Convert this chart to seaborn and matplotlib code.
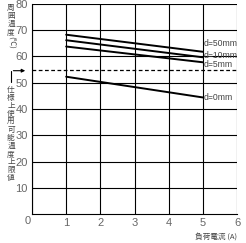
import matplotlib
matplotlib.use("Agg")
import matplotlib.pyplot as plt
import seaborn as sns
import pandas as pd

# Data
current = [1, 5]
series_names = ["d=50mm", "d=10mm", "d=5mm", "d=0mm"]
temp_d50 = [68.3, 61.8]
temp_d10 = [66.2, 59.7]
temp_d5 = [63.8, 57.8]
temp_d0 = [52.3, 44.4]
limit_temp = 55
x_ticks = [0, 1, 2, 3, 4, 5, 6]
x_tick_labels = ["", "1", "2", "3", "4", "5", "6"]
y_ticks = [10, 20, 30, 40, 50, 60, 70, 80]
label_y = [64.8, 60.3, 57.0, 44.3]

rows = []
for name, vals in zip(series_names, [temp_d50, temp_d10, temp_d5, temp_d0]):
    for x, v in zip(current, vals):
        rows.append({"current": x, "temp": v, "d": name})
df = pd.DataFrame(rows)

sns.set_theme(style="white")
plt.rcParams['font.family'] = ['Liberation Sans Narrow', 'Liberation Sans', 'DejaVu Sans']
jp = ['Noto Sans CJK JP', 'DejaVu Sans']

fig = plt.figure(figsize=(2.46, 2.43), dpi=100)
ax = fig.add_axes([32/246, 1 - 214/243, (237-32)/246, (214-4)/243])

sns.lineplot(data=df, x="current", y="temp", hue="d", palette=["black"]*4,
             linewidth=1.4, legend=False, ax=ax)
ax.axhline(limit_temp, color="black", linestyle=(0, (3, 2)), linewidth=0.9)

ax.set_xlim(0, 6)
ax.set_ylim(0, 80)
ax.set_xticks(x_ticks)
ax.set_xticklabels(x_tick_labels)
ax.set_yticks(y_ticks)
ax.grid(True, color="black", linewidth=0.8)
for s in ax.spines.values():
    s.set_color("black")
    s.set_linewidth(0.8)
ax.spines['top'].set_visible(False)
ax.spines['right'].set_visible(False)
ax.tick_params(axis='both', length=0, labelsize=8, colors="#666666", pad=3)
ax.set_xlabel("")
ax.set_ylabel("")

for name, y in zip(series_names, label_y):
    ax.text(5.02, y, name, fontsize=6.2, color="#444444", va="center", ha="left")

# corner 0
fig.text(28/246, 1 - 221/243, "0", fontsize=8, color="#666666", ha="center", va="center")

# y axis label (vertical)
fig.text(11/246, 1 - 4/243, "周\n囲\n温\n度", family=jp, fontsize=5.5, color="#444444",
         ha="center", va="top", linespacing=1.0)
fig.text(11/246, 1 - 42/243, "(℃)", family=jp, fontsize=5.5, color="#444444",
         ha="center", va="center", rotation=-90)

# limit label with arrow
fig.text(11/246, 1 - 86/243, "\n".join("仕様上使用可能温度上限値"), family=jp, fontsize=5.5,
         color="#444444", ha="center", va="top", linespacing=1.0)
fig.add_artist(plt.Line2D([11/246, 11/246], [1 - 82/243, 1 - 70.7/243],
                          color="black", linewidth=0.8, transform=fig.transFigure))
ax.annotate("", xy=(28/246, 1 - 70.7/243), xycoords="figure fraction",
            xytext=(10.6/246, 1 - 70.7/243), textcoords="figure fraction",
            arrowprops=dict(arrowstyle="-|>", color="black", lw=0.8, mutation_scale=5))

fig.text(237/246, 1 - 237/243, "負荷電流 (A)", family=jp, fontsize=5.5, color="#444444",
         ha="right", va="center")

fig.savefig("out.png", dpi=100)
